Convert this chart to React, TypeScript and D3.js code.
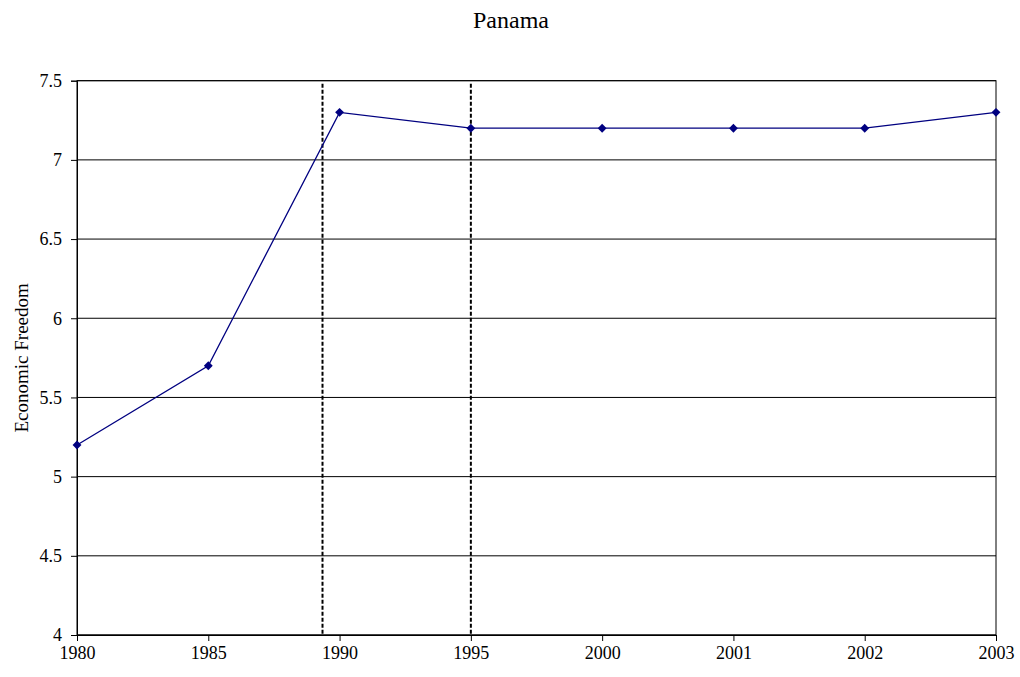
import React, { useEffect, useRef } from "react";
import * as d3 from "d3";

const years = ["1980", "1985", "1990", "1995", "2000", "2001", "2002", "2003"];
const freedom = [5.2, 5.7, 7.3, 7.2, 7.2, 7.2, 7.2, 7.3];
const yTicks = [4, 4.5, 5, 5.5, 6, 6.5, 7, 7.5];
const markerIndexes = [1.87, 3];

const W = 1020, H = 677;
const M = { left: 77, right: 996, top: 80.7, bottom: 635 };
const FONT = "'Liberation Serif', 'Times New Roman', Times, serif";

export default function App() {
  const ref = useRef<SVGSVGElement>(null);
  useEffect(() => {
    const svg = d3.select(ref.current);
    svg.selectAll("*").remove();
    const x = d3.scalePoint<string>().domain(years).range([M.left, M.right]);
    const xi = d3.scaleLinear().domain([0, years.length - 1]).range([M.left, M.right]);
    const y = d3.scaleLinear().domain([4, 7.5]).range([M.bottom, M.top]);

    svg.append("g").selectAll("line").data(yTicks).join("line")
      .attr("x1", M.left).attr("x2", M.right)
      .attr("y1", d => y(d)).attr("y2", d => y(d))
      .attr("stroke", "#000").attr("stroke-width", 1);
    svg.append("rect").attr("x", M.left).attr("y", M.top)
      .attr("width", M.right - M.left).attr("height", M.bottom - M.top)
      .attr("fill", "none").attr("stroke", "#000").attr("stroke-width", 1);

    const yAxis = d3.axisLeft(y).tickValues(yTicks).tickSize(6).tickPadding(9)
      .tickFormat(d => String(d));
    const gy = svg.append("g").attr("transform", `translate(${M.left},0)`).call(yAxis);
    gy.attr("font-family", null).attr("font-size", null);
    gy.select(".domain").attr("stroke", "#000");
    gy.selectAll("line").attr("stroke", "#000");
    gy.selectAll("text").style("font-family", FONT).style("font-size", "18px").attr("fill", "#000");

    const xAxis = d3.axisBottom(x).tickSize(6).tickPadding(5);
    const gx = svg.append("g").attr("transform", `translate(0,${M.bottom})`).call(xAxis);
    gx.attr("font-family", null).attr("font-size", null);
    gx.select(".domain").attr("stroke", "#000");
    gx.selectAll("line").attr("stroke", "#000");
    gx.selectAll("text").style("font-family", FONT).style("font-size", "18px").attr("fill", "#000");

    svg.append("g").selectAll("line").data(markerIndexes).join("line")
      .attr("x1", d => xi(d)).attr("x2", d => xi(d))
      .attr("y1", M.top + 3).attr("y2", M.bottom)
      .attr("stroke", "#000").attr("stroke-width", 2).attr("stroke-dasharray", "4,2");

    const line = d3.line<number>().x((_, i) => x(years[i])!).y(d => y(d));
    svg.append("path").datum(freedom).attr("d", line)
      .attr("fill", "none").attr("stroke", "#000080").attr("stroke-width", 1.3);
    svg.append("g").selectAll("path").data(freedom).join("path")
      .attr("d", d3.symbol().type(d3.symbolDiamond2).size(50))
      .attr("transform", (d, i) => `translate(${x(years[i])},${y(d)})`)
      .attr("fill", "#000080");

    svg.append("text").attr("x", 511).attr("y", 28).attr("text-anchor", "middle")
      .style("font-family", FONT).style("font-size", "24px").attr("fill", "#000").text("Panama");
    svg.append("text").attr("transform", `translate(28,${(M.top + M.bottom) / 2}) rotate(-90)`)
      .attr("text-anchor", "middle").style("font-family", FONT).style("font-size", "19px")
      .attr("fill", "#000").text("Economic Freedom");
  }, []);
  return <svg ref={ref} width={W} height={H} style={{ position: "absolute", left: 0, top: 0, background: "#fff" }} />;
}
